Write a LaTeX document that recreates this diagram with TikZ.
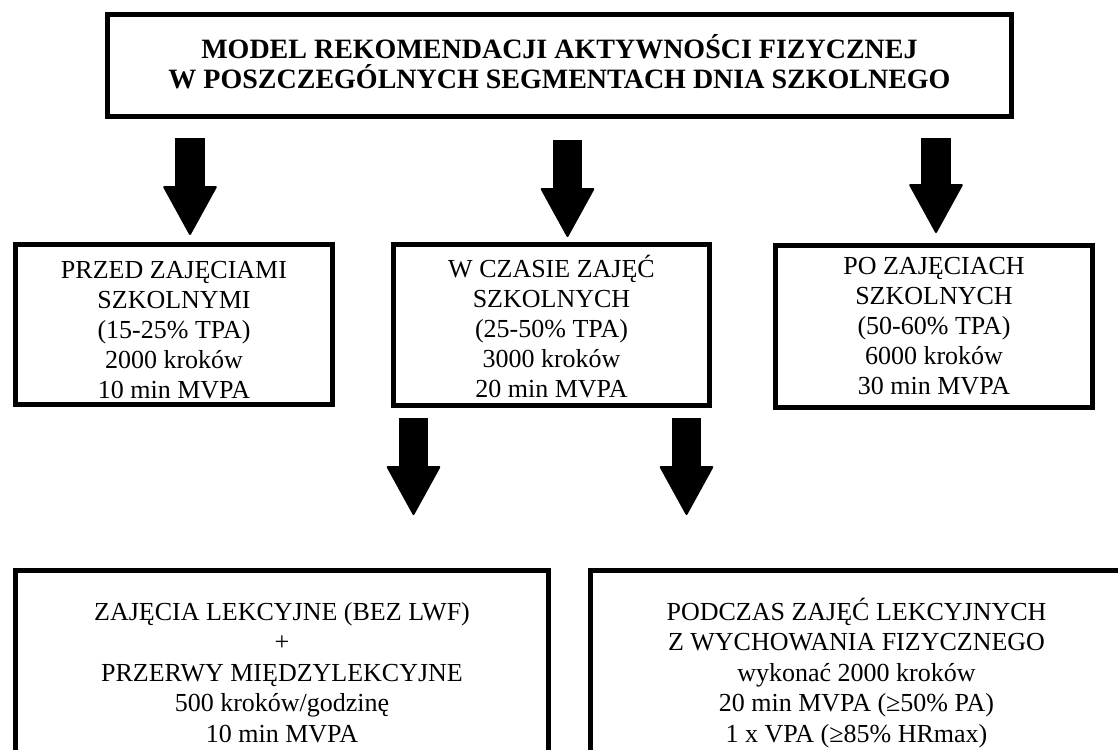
\documentclass[tikz,border=0pt]{standalone}
\usepackage{fontspec}
\setmainfont{Liberation Serif}
\usetikzlibrary{arrows.meta}
\newcommand\tstrut[1]{\rule{0pt}{#1}}
\newcommand\bstrut[1]{\rule[-#1]{0pt}{#1}}
\tikzset{
  box/.style={draw, line width=5pt, align=center, inner sep=0pt,
    font=\fontsize{26}{30}\selectfont},
  lowbox/.style={box, font=\fontsize{26}{30.5}\selectfont},
  titlebox/.style={box, font=\bfseries\fontsize{28}{30.5}\selectfont},
  bigarrow/.style={line width=29.5pt, line cap=butt,
    -{Triangle[width=54.5pt,length=50pt,line width=2pt,round]}}
}
\begin{document}
\begin{tikzpicture}[x=1pt,y=-1pt]
\useasboundingbox (0,0) rectangle (1118,749);
\fill[white] (0,0) rectangle (1118,749);
\clip (0,0) rectangle (1118,749);

\node[titlebox, minimum width=904pt, minimum height=102pt] (title) at (559.5,65.5)
  {\tstrut{28pt}MODEL REKOMENDACJI AKTYWNOŚCI FIZYCZNEJ\\
   W POSZCZEGÓLNYCH SEGMENTACH DNIA SZKOLNEGO\bstrut{11.5pt}};

\node[box, minimum width=317pt, minimum height=160pt] (before) at (174,324.5)
  {\tstrut{29pt}PRZED ZAJĘCIAMI\\ SZKOLNYMI\\ (15-25\% TPA)\\ 2000 kroków\\ 10 min MVPA};

\node[box, minimum width=316pt, minimum height=161pt] (during) at (551.5,325)
  {\tstrut{26pt}W CZASIE ZAJĘĆ\\ SZKOLNYCH\\ (25-50\% TPA)\\ 3000 kroków\\ 20 min MVPA};

\node[box, minimum width=317pt, minimum height=162pt] (after) at (934,326.5)
  {\tstrut{24pt}PO ZAJĘCIACH\\ SZKOLNYCH\\ (50-60\% TPA)\\ 6000 kroków\\ 30 min MVPA\bstrut{9pt}};

\node[lowbox, minimum width=533pt, minimum height=217pt] (lessons) at (282,679)
  {\tstrut{24pt}ZAJĘCIA LEKCYJNE (BEZ LWF)\\ +\\ PRZERWY MIĘDZYLEKCYJNE\\ 500 kroków/godzinę\\ 10 min MVPA\bstrut{20pt}};

\node[lowbox, minimum width=532pt, minimum height=217pt] (pe) at (856.5,679)
  {\tstrut{24pt}PODCZAS ZAJĘĆ LEKCYJNYCH\\ Z WYCHOWANIA FIZYCZNEGO\\ wykonać 2000 kroków\\ 20 min MVPA (≥50\% PA)\\ 1 x VPA (≥85\% HRmax)\bstrut{20pt}};

\coordinate (a1s) at (190,138);   \coordinate (a1e) at (190,235);
\coordinate (a2s) at (567.5,140); \coordinate (a2e) at (567.5,237);
\coordinate (a3s) at (936,138);   \coordinate (a3e) at (936,233);
\coordinate (a4s) at (413.5,418); \coordinate (a4e) at (413.5,515);
\coordinate (a5s) at (686.5,418); \coordinate (a5e) at (686.5,515);

\draw[bigarrow] (a1s) -- (a1e);
\draw[bigarrow] (a2s) -- (a2e);
\draw[bigarrow] (a3s) -- (a3e);
\draw[bigarrow] (a4s) -- (a4e);
\draw[bigarrow] (a5s) -- (a5e);
\end{tikzpicture}
\end{document}
